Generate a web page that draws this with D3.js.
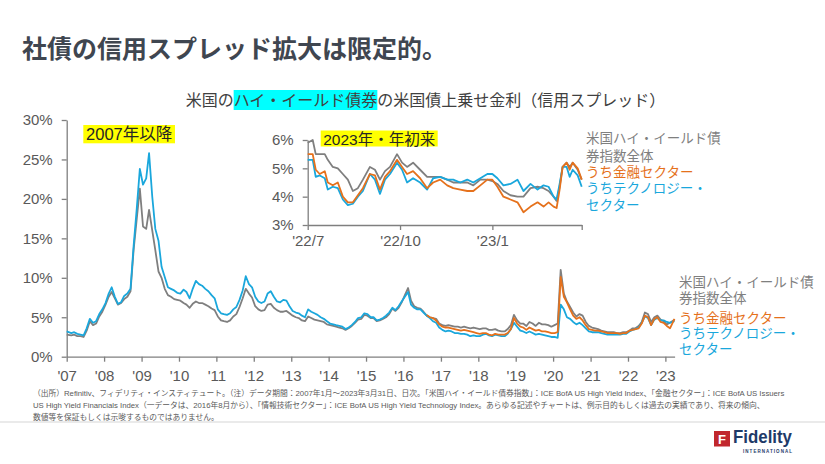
<!DOCTYPE html>
<html><head><meta charset="utf-8">
<script src="https://cdn.jsdelivr.net/npm/d3@7"></script>
<style>
body{margin:0;background:#fff}
svg{display:block}
text{font-family:"Liberation Sans","Noto Sans CJK JP",sans-serif}
</style>
</head><body><svg id="c" width="825" height="464"></svg>
<script>
// ---------- texts ----------
const titleText = "社債の信用スプレッド拡大は限定的。";
const subtitleParts = ["米国の", "ハイ・イールド債券", "の米国債上乗せ金利（信用スプレッド）"];
const mainBadge = "2007年以降";
const insetBadge = "2023年・年初来";
const seriesNames = ["米国ハイ・イールド債券指数全体", "うち金融セクター", "うちテクノロジー・セクター"];
const legendLinesGray = ["米国ハイ・イールド債", "券指数全体"];
const legendLinesFin = ["うち金融セクター"];
const legendLinesTech = ["うちテクノロジー・", "セクター"];
const footerLines = [
  "（出所）Refinitiv、フィデリティ・インスティテュート。（注）データ期間：2007年1月～2023年3月31日、日次。「米国ハイ・イールド債券指数」：ICE BofA US High Yield Index、「金融セクター」：ICE BofA US Issuers",
  "US High Yield Financials Index（一データは、2016年8月から）、「情報技術セクター」：ICE BofA US High Yield Technology Index。あらゆる記述やチャートは、例示目的もしくは過去の実績であり、将来の傾向、",
  "数値等を保証もしくは示唆するものではありません。"
];

// ---------- main chart data (monthly, %, Jan 2007 - Mar 2023) ----------
const yearTickLabels = ["'07","'08","'09","'10","'11","'12","'13","'14","'15","'16","'17","'18","'19","'20","'21","'22","'23"];
const yTicksMain = [0,5,10,15,20,25,30];
const mainStart = "2007-01";
const hyMonthly = [
  2.8,2.7,2.8,2.6,2.6,2.5,3.3,4.5,4.0,4.2,5.1,5.7,
  6.6,7.6,8.2,7.4,6.6,6.8,7.3,7.6,8.3,13.5,17.5,21.3,
  16.5,16.2,18.6,16.0,13.5,10.8,10.0,8.6,7.8,7.6,7.3,7.2,
  7.1,6.8,6.6,6.2,6.7,7.0,6.8,6.8,6.6,6.4,6.1,5.9,
  5.1,4.6,4.5,4.4,4.6,5.1,5.4,6.3,7.4,8.6,8.0,7.5,
  6.4,6.0,5.8,5.9,6.6,6.7,6.2,5.9,5.7,5.7,5.8,5.5,
  5.2,5.0,4.9,4.6,4.5,5.1,4.9,4.7,4.6,4.5,4.4,4.1,
  4.0,3.9,3.8,3.7,3.6,3.4,3.6,3.9,4.3,4.7,4.8,5.3,
  5.2,4.9,4.9,4.5,4.6,4.8,5.0,5.4,6.1,5.8,6.2,6.9,
  7.8,8.7,7.1,6.4,6.2,6.1,5.7,5.2,5.0,4.9,4.8,4.2,
  4.0,3.9,4.0,3.9,3.8,3.8,3.7,3.8,3.7,3.6,3.7,3.6,
  3.5,3.6,3.6,3.4,3.4,3.5,3.3,3.2,3.2,3.5,4.0,5.3,
  4.6,4.2,4.2,3.9,4.4,4.2,3.9,4.3,4.1,4.1,4.0,3.8,
  4.0,4.2,11.0,8.0,7.0,6.3,5.6,5.1,5.4,5.2,4.4,3.9,
  3.7,3.6,3.5,3.3,3.2,3.1,3.1,3.1,3.0,3.0,3.1,3.1,
  3.3,3.6,3.6,3.9,4.4,5.6,5.4,4.4,5.0,5.2,4.7,4.5,
  4.1,4.3,4.7
];
const techMonthly = [
  3.2,3.0,3.1,2.9,2.8,2.7,3.6,4.8,4.3,4.5,5.4,6.0,
  6.8,8.0,8.8,7.6,6.7,6.9,7.7,8.0,8.6,14.0,18.8,23.8,
  21.8,22.6,25.8,20.3,16.2,14.7,11.4,10.1,8.8,8.6,8.4,8.1,
  8.0,8.5,8.2,7.4,8.6,9.6,9.2,9.0,8.6,8.3,7.8,7.4,
  6.0,5.5,5.4,5.3,5.5,6.0,6.3,7.2,8.4,10.2,9.2,8.8,
  7.6,7.0,6.8,7.0,8.0,8.3,7.6,7.0,6.9,7.2,7.1,6.4,
  5.8,5.6,5.5,5.2,5.0,6.0,5.7,5.5,5.3,5.0,4.8,4.5,
  4.2,4.1,4.0,3.9,3.8,3.5,3.7,4.0,4.4,4.9,5.0,5.5,
  5.4,5.0,5.0,4.6,4.7,4.9,5.2,5.6,6.2,5.9,6.4,7.0,
  7.6,8.2,6.6,6.2,6.0,6.0,5.6,5.2,4.9,4.5,4.3,3.7,
  3.4,3.2,3.3,3.2,3.0,3.0,2.9,2.9,2.8,2.6,2.7,2.6,
  2.6,2.8,2.9,2.7,2.6,2.8,2.7,2.6,2.6,2.9,3.5,4.3,
  3.8,3.3,3.2,3.0,3.2,3.0,2.8,2.9,2.8,2.7,2.6,2.5,
  2.5,2.4,6.6,6.0,5.0,4.8,4.4,4.1,4.3,4.0,3.6,3.2,
  3.1,3.1,3.1,3.0,2.9,2.8,2.8,2.8,2.8,2.8,2.9,2.9,
  3.2,3.4,3.5,3.7,4.3,5.1,4.9,4.0,4.7,4.9,4.6,4.6,
  4.4,4.3,4.5
];
const finStart = "2016-08";
const finMonthly = [
  5.3,5.0,4.9,4.6,4.1,
  3.8,3.7,3.7,3.6,3.5,3.4,3.3,3.4,3.3,3.2,3.1,3.0,
  2.9,3.0,3.0,2.8,2.7,2.9,2.8,2.8,2.8,3.0,3.5,4.9,
  4.2,3.8,3.7,3.4,3.7,3.5,3.3,3.4,3.2,3.2,3.1,3.0,
  3.0,3.1,10.1,7.6,6.9,6.0,5.2,4.8,5.0,4.6,4.0,3.5,
  3.4,3.3,3.3,3.2,3.1,3.0,3.0,3.0,3.0,2.9,3.0,3.0,
  3.3,3.4,3.5,3.6,4.2,5.2,5.0,4.0,4.8,5.0,4.4,4.3,
  3.9,3.6,4.8
];

// ---------- inset data (Jul 2022 - Mar 2023, %) ----------
const insetDates = ["2022-07-01","2022-07-06","2022-07-09","2022-07-13","2022-07-18","2022-07-21","2022-07-26","2022-07-31","2022-08-05","2022-08-10",
  "2022-08-15","2022-08-20","2022-08-25","2022-09-01","2022-09-06","2022-09-11","2022-09-16","2022-09-21","2022-09-28","2022-10-03",
  "2022-10-08","2022-10-14","2022-10-21","2022-10-28","2022-11-03","2022-11-10","2022-11-17","2022-11-23","2022-11-30","2022-12-07",
  "2022-12-13","2022-12-20","2022-12-27","2023-01-01","2023-01-06","2023-01-12","2023-01-19","2023-01-26","2023-02-01","2023-02-08",
  "2023-02-15","2023-02-21","2023-02-26","2023-03-03","2023-03-06","2023-03-09","2023-03-12","2023-03-16","2023-03-19","2023-03-22",
  "2023-03-27","2023-03-31"];
const insetHy = [5.9,6.0,5.5,5.5,5.5,5.3,5.05,5.0,4.8,4.6,
  4.2,4.3,4.6,5.05,4.95,4.6,4.9,5.05,5.5,5.2,
  5.05,5.2,4.95,4.7,4.7,4.7,4.6,4.5,4.5,4.5,
  4.4,4.6,4.6,4.55,4.45,4.2,4.05,4.0,4.0,4.3,
  4.35,4.3,4.2,4.0,3.85,4.35,5.05,5.2,5.05,5.2,
  4.95,4.6];
const insetFin = [5.5,5.5,4.95,4.8,4.9,4.5,4.4,4.5,4.0,3.8,
  3.8,4.05,4.3,4.8,4.75,4.25,4.7,4.9,5.3,5.05,
  4.8,4.9,4.65,4.3,4.5,4.6,4.4,4.3,4.25,4.2,
  4.2,4.4,4.6,4.6,4.35,4.0,3.9,3.8,3.45,3.65,
  3.8,3.65,3.8,3.65,3.6,4.25,5.05,5.2,4.95,5.2,
  5.0,4.6];
const insetTech = [5.3,5.3,4.7,4.75,4.65,4.25,4.35,4.3,3.9,3.7,
  3.75,4.0,4.2,4.8,4.6,4.1,4.6,4.8,5.2,4.95,
  4.5,4.65,4.5,4.25,4.65,4.7,4.6,4.6,4.5,4.6,
  4.5,4.65,4.8,4.8,4.65,4.4,4.45,4.6,4.2,4.45,
  4.25,4.4,4.35,4.0,3.9,4.45,5.05,5.05,4.7,4.95,
  4.75,4.35];
const insetTickDates = ["2022-07-01","2022-10-01","2023-01-01","2023-03-31"];
const insetTickLabels = ["'22/7","'22/10","'23/1",""];
const yTicksInset = [3,4,5,6];

// ---------- styles ----------
const C_GRAY = "#7f7f7f", C_FIN = "#e5711c", C_TECH = "#1aa7dc";
const C_AXIS = "#7f7f7f", C_LABEL = "#595959";

const svg = d3.select("#c");
const parseDay = d3.timeParse("%Y-%m-%d");
const parseMonth = d3.timeParse("%Y-%m");

// title
svg.append("text").attr("x", 22).attr("y", 58)
  .attr("font-size", 25).attr("font-weight", "bold").attr("fill", "#3f4650")
  .text(titleText);

// subtitle with highlight
{
  const g = svg.append("g");
  const fs = 16;
  const pieces = subtitleParts.map(t => g.append("text").attr("font-size", fs).attr("fill", "#404040").attr("y", 106).text(t));
  const widths = pieces.map(p => p.node().getComputedTextLength());
  const total = d3.sum(widths);
  let cx = 425.5 - total / 2;
  pieces.forEach((p, i) => {
    if (i === 1) {
      g.insert("rect", "text").attr("x", cx).attr("y", 90).attr("width", widths[i]).attr("height", 20).attr("fill", "#00ffff");
    }
    p.attr("x", cx);
    cx += widths[i];
  });
}

// ---------- main chart ----------
const mainMonths = d3.timeMonth.range(parseMonth(mainStart), new Date(2023, 3, 1));
function pointDate(m, i, n) {
  if (i === 0 && +m === +parseMonth(mainStart)) return m;
  if (i === n - 1) return new Date(2023, 2, 31);
  return d3.timeDay.offset(m, 14);
}
const hyData = hyMonthly.map((v, i) => ({date: pointDate(mainMonths[i], i, hyMonthly.length), v}));
const techData = techMonthly.map((v, i) => ({date: pointDate(mainMonths[i], i, techMonthly.length), v}));
const finMonths = d3.timeMonth.range(parseMonth(finStart), new Date(2023, 3, 1));
const finData = finMonthly.map((v, i) => ({date: pointDate(finMonths[i], i, finMonthly.length), v}));

const x = d3.scaleTime().domain([new Date(2007, 0, 1), new Date(2023, 3, 1)]).range([66.7, 674.6]);
const y = d3.scaleLinear().domain([0, 30]).range([356.7, 120]);

function styleAxis(g, fs) {
  g.select(".domain").attr("stroke", C_AXIS).attr("stroke-width", 1.3);
  g.selectAll(".tick line").attr("stroke", C_AXIS).attr("stroke-width", 1.3);
  g.selectAll(".tick text").attr("fill", C_LABEL).attr("font-size", fs)
    .attr("font-family", '"Liberation Sans","Noto Sans CJK JP",sans-serif');
}

const gy = svg.append("g").attr("transform", "translate(66.7,0)")
  .call(d3.axisLeft(y).tickValues(yTicksMain).tickFormat(d => d + "%").tickSize(5).tickSizeOuter(0).tickPadding(9));
styleAxis(gy, 15);
const yearDates = yearTickLabels.map((_, i) => new Date(2007 + i, 0, 1));
const gx = svg.append("g").attr("transform", "translate(0,356.7)")
  .call(d3.axisBottom(x).tickValues(yearDates).tickFormat((d, i) => yearTickLabels[i]).tickSize(5).tickSizeOuter(0).tickPadding(9));
styleAxis(gx, 15);

const lineMain = d3.line().x(d => x(d.date)).y(d => y(d.v)).curve(d3.curveLinear);
[[hyData, C_GRAY], [techData, C_TECH], [finData, C_FIN]].forEach(([data, col]) => {
  svg.append("path").datum(data).attr("d", lineMain).attr("fill", "none")
    .attr("stroke", col).attr("stroke-width", 1.8).attr("stroke-linejoin", "round");
});

// main badge
{
  const g = svg.append("g");
  g.append("rect").attr("x", 83.3).attr("y", 125).attr("width", 91.7).attr("height", 18.3).attr("fill", "#ffff00");
  g.append("text").attr("x", 129.2).attr("y", 140).attr("text-anchor", "middle")
    .attr("font-size", 16.5).attr("fill", "#262626").text(mainBadge);
}

// legends
function legendBlock(lines, x0, ys, col, fs) {
  lines.forEach((t, i) => svg.append("text").attr("x", x0).attr("y", ys[i])
    .attr("font-size", fs).attr("fill", col).text(t));
}
legendBlock(legendLinesGray, 679, [286.8, 303.4], C_GRAY, 13.5);
legendBlock(legendLinesFin, 679, [323.2], C_FIN, 13.5);
legendBlock(legendLinesTech, 679, [337.8, 354.4], C_TECH, 13.5);

// ---------- inset ----------
const xi = d3.scaleTime().domain([parseDay("2022-07-01"), parseDay("2023-03-31")]).range([307.7, 581.7]);
const yi = d3.scaleLinear().domain([3, 6]).range([225, 140]);

const giy = svg.append("g").attr("transform", "translate(307.7,0)")
  .call(d3.axisLeft(yi).tickValues(yTicksInset).tickFormat(d => d + "%").tickSize(5).tickSizeOuter(0).tickPadding(9));
styleAxis(giy, 15);
const gix = svg.append("g").attr("transform", "translate(0,225)")
  .call(d3.axisBottom(xi).tickValues(insetTickDates.map(parseDay)).tickFormat((d, i) => insetTickLabels[i]).tickSize(5).tickSizeOuter(0).tickPadding(5));
styleAxis(gix, 15);

const insetSeries = [[insetHy, C_GRAY], [insetTech, C_TECH], [insetFin, C_FIN]];
const lineInset = d3.line().x(d => xi(d.date)).y(d => yi(d.v));
insetSeries.forEach(([vals, col]) => {
  const data = vals.map((v, i) => ({date: parseDay(insetDates[i]), v}));
  svg.append("path").datum(data).attr("d", lineInset).attr("fill", "none")
    .attr("stroke", col).attr("stroke-width", 1.8).attr("stroke-linejoin", "round");
});

// inset badge
{
  const g = svg.append("g");
  g.append("rect").attr("x", 320.7).attr("y", 130.5).attr("width", 117).attr("height", 16).attr("fill", "#ffff00");
  g.append("text").attr("x", 379.2).attr("y", 144.5).attr("text-anchor", "middle")
    .attr("font-size", 15.5).attr("fill", "#262626").text(insetBadge);
}
legendBlock(legendLinesGray, 586, [143.3, 161], C_GRAY, 13.5);
legendBlock(legendLinesFin, 586, [176.7], C_FIN, 13.5);
legendBlock(legendLinesTech, 586, [193.3, 210], C_TECH, 13.5);

// ---------- footer (font size fitted so line 1 spans the reference width) ----------
{
  const probe = svg.append("text").attr("font-size", 10).text(footerLines[0]);
  const w10 = probe.node().getComputedTextLength();
  probe.remove();
  const fs = Math.min(9, 10 * 752 / w10);
  footerLines.forEach((t, i) => {
    svg.append("text").attr("x", 33).attr("y", 395.5 + i * 12)
      .attr("font-size", fs).attr("fill", C_LABEL).text(t);
  });
}
svg.append("line").attr("x1", 0).attr("x2", 825).attr("y1", 422).attr("y2", 422)
  .attr("stroke", "#e3e3e3").attr("stroke-width", 1.5);

// ---------- logo ----------
{
  const g = svg.append("g");
  g.append("rect").attr("x", 714).attr("y", 431).attr("width", 16).attr("height", 15.5).attr("fill", "#c1272d");
  g.append("text").attr("x", 722).attr("y", 443.5).attr("text-anchor", "middle")
    .attr("font-size", 13).attr("font-weight", "bold").attr("fill", "#fff").text("F");
  g.append("text").attr("x", 733).attr("y", 443).attr("font-size", 18.5).attr("font-weight", "bold")
    .attr("fill", "#1e3a68").attr("textLength", 59).attr("lengthAdjust", "spacingAndGlyphs").text("Fidelity");
  g.append("text").attr("x", 743).attr("y", 453).attr("font-size", 4.5).attr("font-weight", "bold")
    .attr("fill", "#1e3a68").attr("textLength", 49).attr("lengthAdjust", "spacing").text("INTERNATIONAL");
}
</script>
</body></html>
